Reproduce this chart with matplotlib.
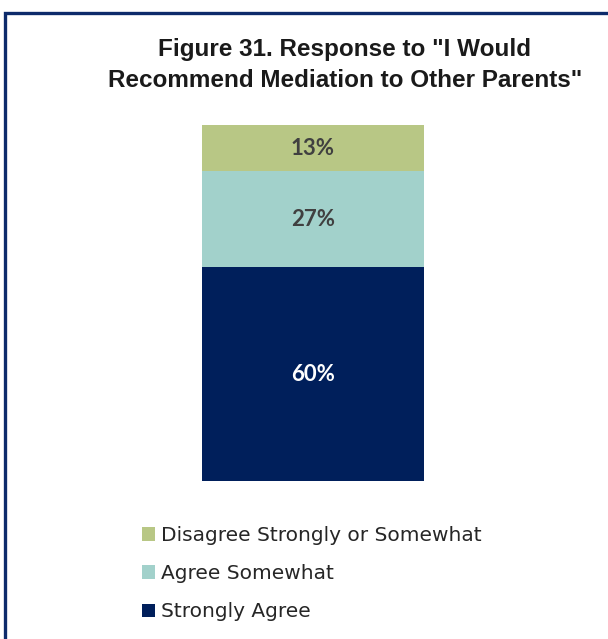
import matplotlib
matplotlib.use("Agg")
import matplotlib.pyplot as plt
from matplotlib.patches import Rectangle, Patch

# Survey responses (percent of parents)
categories = ["Strongly Agree", "Agree Somewhat", "Disagree Strongly or Somewhat"]
values = [60, 27, 13]
colors = ["#001F5B", "#A2D1CB", "#B8C785"]
label_colors = ["white", "#404040", "#404040"]
title = 'Figure 31. Response to "I Would\nRecommend Mediation to Other Parents"'

W, H = 608, 639
DPI = 100
fig = plt.figure(figsize=(W / DPI, H / DPI), dpi=DPI)
fig.patch.set_facecolor("white")

def fx(px):
    return px / W

def fy(py):
    return 1 - py / H

# Frame around the chart (runs off the right and bottom edges)
fig.add_artist(Rectangle((fx(5), fy(700)), fx(700), (700 - 13) / H,
                         transform=fig.transFigure, fill=False,
                         edgecolor="#0D2B6B", linewidth=2.4, clip_on=False))

fig.text(fx(345), fy(65), title, ha="center", va="center",
         fontsize=17.5, fontweight="bold", family="Liberation Sans",
         color="#1a1a1a", linespacing=1.45)

ax = fig.add_axes([fx(202), fy(481), fx(424) - fx(202), (481 - 125) / H])
bottom = 0
for cat, v, c, lc in zip(categories, values, colors, label_colors):
    ax.bar(0, v, bottom=bottom, width=1.0, color=c, label=cat)
    ax.text(0, bottom + v / 2, f"{v}%", ha="center", va="center",
            fontsize=16, fontweight="bold", family="Lato", color=lc)
    bottom += v
ax.set_xlim(-0.5, 0.5)
ax.set_ylim(0, sum(values))
ax.axis("off")

handles = [Patch(facecolor=c, edgecolor="none") for c in colors][::-1]
leg = fig.legend(handles, categories[::-1], loc="upper left",
                 bbox_to_anchor=(fx(124), fy(508)), frameon=False,
                 handlelength=0.65, handleheight=0.65, handletextpad=0.3,
                 labelspacing=0.95,
                 prop={"family": "DejaVu Sans", "size": 14.5})
for t in leg.get_texts():
    t.set_color("#262626")

fig.savefig("out.png", dpi=DPI, facecolor="white")
